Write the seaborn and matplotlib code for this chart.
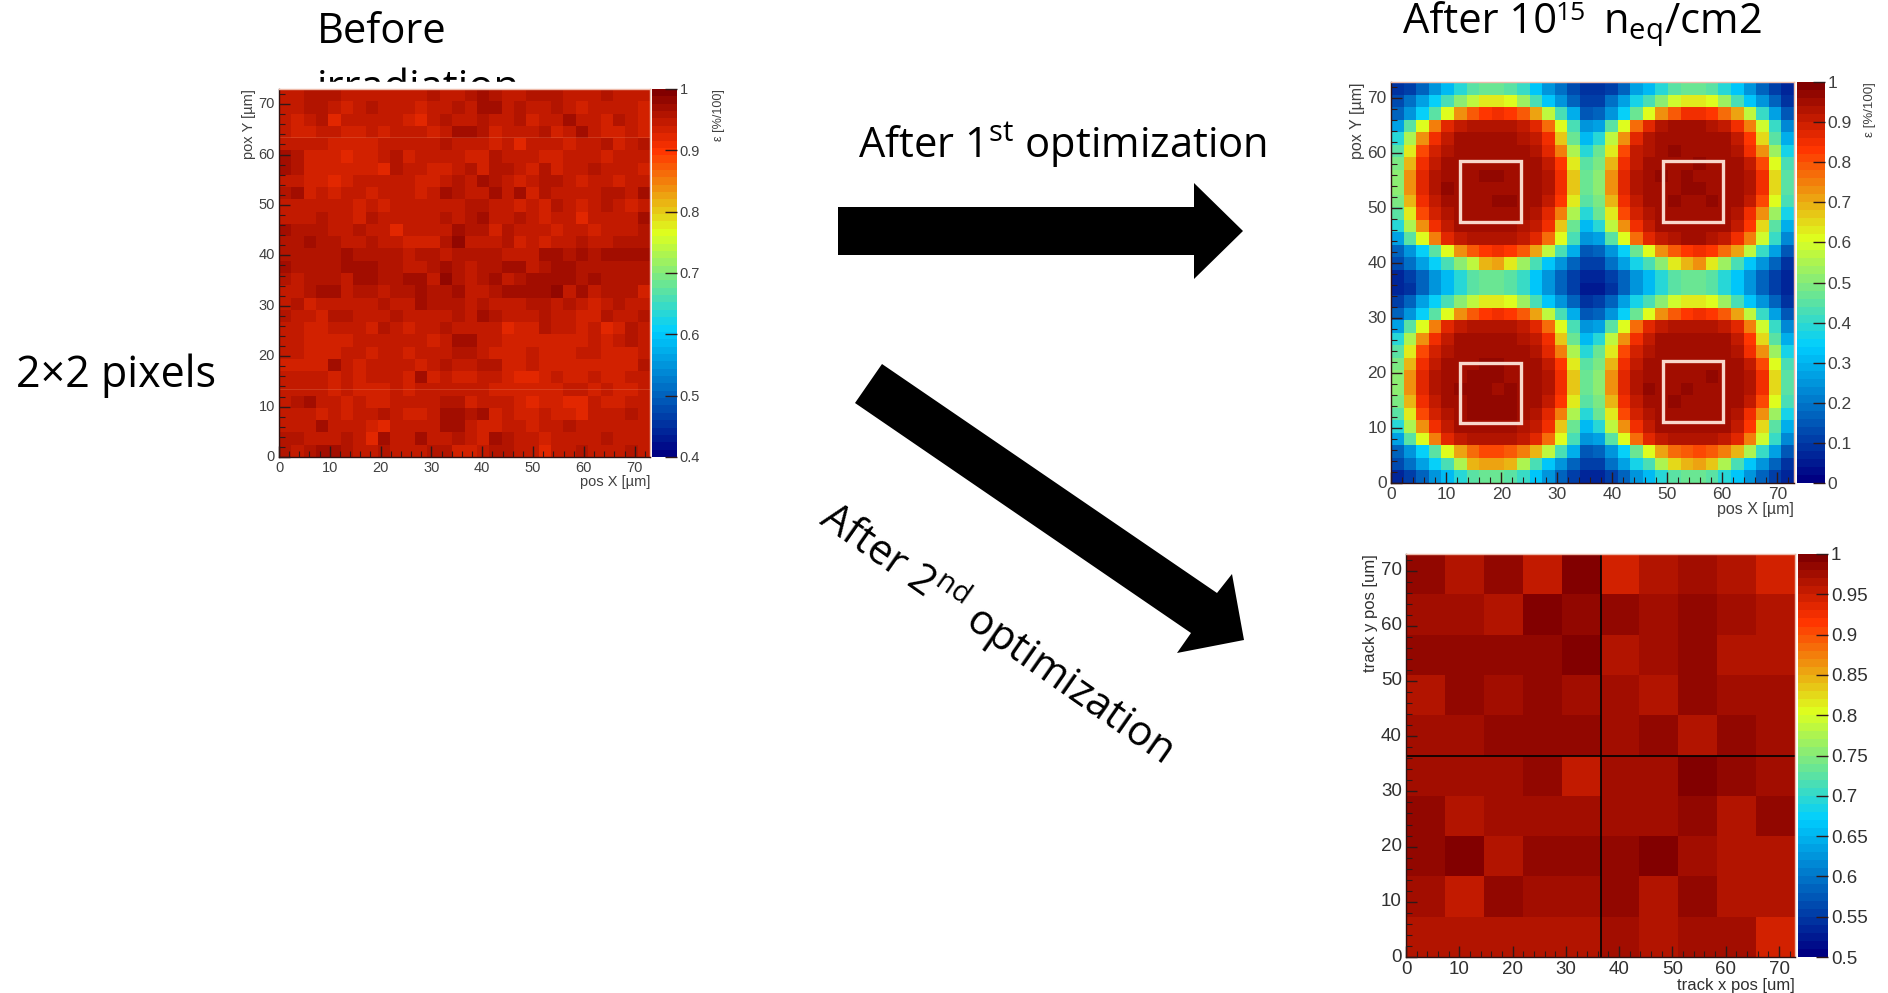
import numpy as np
import matplotlib
matplotlib.use('Agg')
import matplotlib.pyplot as plt
from matplotlib.colors import LinearSegmentedColormap
from matplotlib.patches import Polygon, Rectangle
import seaborn as sns

# --- DATA (rows go top to bottom) ---
# before irradiation, efficiency in percent
before_eff = [
    [95,95,96,96,96,95,95,95,95,95,95,95,96,95,95,96,97,96,95,95,96,96,96,95,95,95,96,95,95,95],
    [95,95,96,96,95,94,95,96,95,95,95,94,95,95,96,95,97,97,95,96,95,95,96,95,94,95,95,95,95,94],
    [95,94,95,96,92,95,95,95,95,95,93,92,95,96,95,95,96,95,95,96,94,95,95,97,95,95,94,96,95,94],
    [95,94,93,95,95,94,94,95,94,95,95,95,94,95,97,97,96,94,95,95,95,96,94,95,97,95,93,93,95,94],
    [95,95,95,95,94,94,94,94,95,95,95,95,95,96,95,95,95,94,95,92,95,95,95,94,95,95,96,94,95,96],
    [97,96,93,93,94,92,94,94,95,96,94,95,95,95,95,94,94,96,95,95,95,94,94,95,95,95,94,95,95,95],
    [97,96,93,93,93,94,93,93,92,96,95,95,94,94,95,96,94,96,96,95,94,96,93,95,95,96,95,95,95,94],
    [95,95,93,94,92,94,95,95,95,95,95,94,93,95,96,95,97,96,95,94,95,96,96,95,94,95,95,93,95,95],
    [96,97,94,95,93,95,95,94,95,95,95,94,95,97,96,95,95,97,95,97,93,96,95,95,95,95,96,96,95,97],
    [95,95,95,95,95,95,94,95,94,95,95,95,95,95,95,96,96,95,95,94,95,93,96,95,94,95,96,95,94,95],
    [95,95,95,96,95,95,94,96,95,95,95,95,95,96,95,96,97,95,95,96,95,94,95,95,92,95,95,95,95,97],
    [97,96,96,96,95,95,96,95,95,92,95,95,95,95,97,96,96,94,96,95,95,95,94,95,95,93,95,95,95,96],
    [96,96,97,96,96,95,95,96,95,95,94,94,94,96,98,95,95,95,96,94,95,94,95,95,96,95,95,96,96,96],
    [96,96,96,96,96,97,96,96,96,96,95,96,96,95,96,96,96,96,95,95,95,97,97,96,97,96,97,97,97,97],
    [97,96,96,96,96,97,97,97,96,96,95,95,96,97,96,95,96,96,97,97,95,96,97,97,96,96,96,96,96,96],
    [96,95,96,96,96,95,97,97,96,96,97,97,95,98,96,95,96,97,95,96,97,97,97,97,96,97,96,96,96,96],
    [95,95,96,97,97,95,96,96,95,96,96,97,96,96,97,95,95,96,97,97,97,97,98,95,97,95,96,96,96,94],
    [95,96,94,95,95,95,95,95,96,95,95,97,96,96,96,95,96,95,95,95,96,96,95,96,95,94,95,96,95,95],
    [96,95,95,94,96,96,95,95,95,96,95,95,95,95,96,95,97,96,95,95,95,96,95,95,94,94,96,95,95,96],
    [95,95,94,94,95,95,95,94,96,95,94,95,95,96,95,95,95,95,92,94,94,96,95,95,94,95,92,94,96,95],
    [95,95,93,94,94,94,95,95,95,95,95,95,94,95,97,97,95,95,94,94,94,94,94,94,94,95,94,95,96,95],
    [95,95,93,94,93,95,95,94,95,95,94,95,95,95,96,96,95,94,94,94,95,94,93,93,95,95,93,93,94,95],
    [94,93,94,93,97,95,94,95,95,95,95,94,95,96,95,95,96,96,94,94,95,94,93,94,93,94,93,93,94,96],
    [95,95,95,95,94,95,93,95,95,95,94,97,94,95,94,94,95,95,94,92,92,93,95,93,94,95,94,93,95,95],
    [95,95,95,95,94,95,94,94,93,95,93,95,95,95,95,95,95,94,94,93,93,94,93,95,95,94,95,94,94,95],
    [95,96,97,95,95,94,95,94,94,95,95,95,95,96,96,94,95,95,95,94,92,93,94,92,92,95,94,94,95,95],
    [95,95,95,94,95,94,95,95,96,95,94,94,95,97,97,96,97,94,95,94,94,95,94,94,92,95,95,95,96,95],
    [95,95,95,97,95,95,95,94,92,95,95,95,95,97,97,95,94,94,95,95,94,95,95,96,95,95,95,95,95,95],
    [96,96,95,95,95,96,95,92,97,95,95,97,95,95,96,95,94,97,96,95,95,94,95,95,95,95,96,95,95,95],
    [96,95,96,97,97,96,95,95,96,95,95,95,96,96,94,94,95,96,96,95,95,92,95,95,96,95,95,95,96,95],
]

# after 10^15 neq/cm2, efficiency in percent
irrad_eff = [
    [8,10,16,25,30,38,44,46,46,44,40,32,25,18,12,8,8,11,17,26,31,39,45,47,46,44,39,32,24,17,11,7],
    [12,18,27,35,42,50,58,62,62,60,52,42,32,25,17,10,11,18,27,36,43,51,59,63,63,60,52,42,32,24,16,9],
    [16,24,34,45,60,72,78,83,85,83,78,70,58,42,28,15,16,25,35,46,61,73,79,84,84,82,77,70,57,41,27,14],
    [26,44,60,75,86,91,93,93,93,93,91,86,76,60,42,24,27,45,61,76,87,92,94,94,94,93,90,85,75,59,41,23],
    [38,55,72,85,91,94,94,95,95,94,93,90,84,66,46,30,39,56,73,86,92,95,95,95,95,94,94,90,83,65,45,29],
    [45,62,80,89,93,95,95,94,94,95,94,93,86,74,54,38,46,63,81,90,93,95,96,95,95,95,94,93,85,73,53,37],
    [48,68,84,91,95,94,95,95,95,94,94,95,90,82,62,44,49,69,85,91,94,95,95,95,96,95,95,94,90,81,61,43],
    [50,72,86,92,95,95,95,96,96,95,95,94,92,84,66,46,51,73,87,92,95,96,95,96,95,95,94,95,92,84,65,45],
    [50,72,86,92,96,94,95,95,95,95,95,95,92,84,66,46,51,73,87,93,94,95,95,96,96,95,95,94,92,84,65,45],
    [48,68,84,91,94,95,95,95,96,96,95,94,90,82,62,44,49,69,85,91,95,95,96,95,95,96,95,94,90,81,61,43],
    [45,62,80,89,93,94,95,95,95,95,95,93,86,74,54,38,46,63,81,89,93,95,95,95,95,94,94,93,85,73,53,37],
    [38,55,72,85,91,94,94,95,95,94,93,90,84,66,46,30,39,56,73,85,91,94,94,94,95,94,94,90,83,65,45,29],
    [26,44,60,75,86,91,93,93,93,93,91,86,76,60,42,24,27,45,61,76,86,91,93,94,94,93,90,85,75,59,41,23],
    [16,24,34,45,60,72,78,83,85,83,78,70,58,42,28,15,16,25,35,46,60,72,79,82,84,82,77,70,57,41,27,14],
    [12,18,27,35,42,50,58,68,70,62,52,42,32,25,17,10,11,18,27,36,43,51,62,68,72,63,52,42,32,24,16,9],
    [7,10,16,24,30,38,44,46,46,44,40,32,24,17,11,6,6,10,17,25,31,39,45,47,46,44,39,32,24,17,11,6],
    [6,9,16,24,30,38,44,46,46,44,40,32,24,17,11,5,5,9,16,25,31,39,44,46,46,44,39,32,24,16,10,6],
    [10,17,27,35,42,50,58,62,62,60,52,42,32,25,16,9,10,17,27,36,43,51,59,62,62,60,52,42,32,24,16,9],
    [16,24,34,45,60,72,78,83,84,83,78,70,58,42,28,15,16,25,35,46,60,72,78,83,85,82,78,70,57,41,27,14],
    [26,44,60,75,86,91,93,93,93,93,91,86,76,60,42,24,27,45,61,76,86,91,93,93,93,93,91,86,75,59,41,23],
    [38,55,72,85,91,94,94,95,95,94,93,90,84,66,46,30,39,56,73,85,91,94,95,94,94,94,94,90,83,65,45,29],
    [45,62,80,89,93,95,95,95,95,95,94,93,86,74,54,38,46,63,81,89,93,95,95,95,95,95,94,93,85,73,53,37],
    [48,68,84,91,94,95,95,96,96,95,95,94,90,82,62,44,49,69,85,91,95,95,95,95,95,95,95,94,90,81,61,43],
    [50,72,86,92,95,95,96,96,96,95,95,95,92,84,66,46,51,73,87,92,94,95,95,95,95,96,95,94,92,84,65,45],
    [50,72,86,92,95,96,96,96,95,96,95,95,92,84,66,46,51,73,87,92,96,95,95,96,95,95,95,94,92,84,65,45],
    [48,68,84,91,95,95,96,96,96,96,95,94,90,82,62,44,49,69,85,91,94,95,96,95,95,95,95,94,90,81,61,43],
    [45,62,80,89,93,95,96,96,96,96,95,93,86,74,54,38,46,63,81,89,93,95,95,95,95,95,94,93,85,73,53,37],
    [38,55,72,85,91,94,94,95,95,94,93,90,84,66,46,30,39,56,73,85,91,94,94,95,95,94,94,90,83,65,45,29],
    [26,44,60,75,86,91,93,93,93,93,91,86,76,60,42,24,27,45,61,76,86,91,93,93,93,93,91,86,75,59,41,23],
    [16,24,34,45,60,70,76,81,81,79,75,68,56,42,28,15,16,25,35,46,60,70,76,79,80,79,75,68,55,41,27,14],
    [12,18,27,35,42,55,68,70,70,68,55,42,32,25,17,10,11,18,27,36,43,55,64,68,70,66,55,42,32,24,16,9],
    [7,10,16,24,30,38,44,46,46,44,40,32,24,17,11,6,6,10,17,25,31,39,45,47,46,44,39,32,24,17,11,6],
]

# after 2nd optimization, efficiency as fraction
opt2_eff = [
    [.98,.965,.985,.955,.993,.945,.96,.975,.965,.95],
    [.97,.972,.965,.993,.98,.985,.975,.982,.978,.96],
    [.985,.985,.985,.988,.99,.965,.978,.985,.965,.965],
    [.965,.983,.975,.98,.972,.975,.968,.985,.975,.97],
    [.975,.975,.985,.98,.98,.975,.98,.96,.98,.97],
    [.978,.978,.975,.98,.955,.975,.975,.992,.98,.972],
    [.983,.968,.978,.97,.978,.97,.973,.985,.968,.98],
    [.98,.99,.965,.983,.985,.98,.993,.97,.965,.965],
    [.975,.955,.988,.975,.973,.985,.968,.982,.968,.968],
    [.962,.967,.965,.967,.963,.978,.968,.972,.972,.95],
]

pos_ticks = [0, 10, 20, 30, 40, 50, 60, 70]
minor_ticks = list(range(2, 73, 2))
pos_max = 73

before_cticks = [0.4, 0.5, 0.6, 0.7, 0.8, 0.9, 1]
before_clabels = ['0.4', '0.5', '0.6', '0.7', '0.8', '0.9', '1']
irrad_cticks = [0, 0.1, 0.2, 0.3, 0.4, 0.5, 0.6, 0.7, 0.8, 0.9, 1]
irrad_clabels = ['0', '0.1', '0.2', '0.3', '0.4', '0.5', '0.6', '0.7', '0.8', '0.9', '1']
opt2_cticks = [0.5, 0.55, 0.6, 0.65, 0.7, 0.75, 0.8, 0.85, 0.9, 0.95, 1]
opt2_clabels = ['0.5', '0.55', '0.6', '0.65', '0.7', '0.75', '0.8', '0.85', '0.9', '0.95', '1']

# implant boxes in um: x low, x high, y low, y high
box_x_lo = [12.5, 49.2, 12.5, 49.2]
box_x_hi = [23.5, 60.2, 23.5, 60.2]
box_y_lo = [47.5, 47.5, 10.9, 11.1]
box_y_hi = [58.6, 58.6, 21.9, 22.2]

# faint seams in the first panel, um
seam_y = [13.5, 63.5]

# --- STYLE ---
W, H = 1888, 993
sns.set_theme(style='white')
plt.rcParams['font.family'] = ['Liberation Sans', 'DejaVu Sans']
plt.rcParams.update({
    'axes.axisbelow': False,
    'mathtext.fontset': 'custom',
    'mathtext.rm': 'Open Sans',
    'mathtext.it': 'Open Sans:italic',
    'mathtext.bf': 'Open Sans:bold',
})

# ROOT rainbow palette
root_stops = [0.0, 0.34, 0.61, 0.84, 1.0]
root_colors = [(0, 0, 0.51), (0, 0.81, 1), (0.87, 1, 0.12), (1, 0.2, 0), (0.51, 0, 0)]
root_cmap = LinearSegmentedColormap.from_list('root', list(zip(root_stops, root_colors)), N=50)

fig = plt.figure(figsize=(W / 100, H / 100), dpi=100, facecolor='white')


def px_axes(left, top, right, bottom, **kw):
    return fig.add_axes([left / W, 1 - bottom / H, (right - left) / W, (bottom - top) / H], **kw)


# slide layer, pixel coordinates
slide = px_axes(0, 0, W, H, zorder=0)
slide.set_xlim(0, W)
slide.set_ylim(H, 0)
slide.axis('off')


def slide_text(x, y, s, **kw):
    slide.text(x, y, s, family='Open Sans', fontsize=kw.pop('fontsize', 30), color='black', **kw)


slide_text(317, 43, 'Before', va='baseline')
slide_text(317, 100, 'irradiation', va='baseline')
slide.add_patch(Rectangle((200, 82), 560, 60, color='white', zorder=3))
slide_text(16, 387, '2×2 pixels', va='baseline', fontsize=31)
slide_text(858, 158, r'After 1$^{\mathrm{st}}$ optimization', va='baseline')
slide_text(1403, 33, 'After 10', va='baseline')
slide_text(1556, 20, '15', va='baseline', fontsize=19)
slide_text(1603, 33, r'n$_{\mathrm{eq}}$/cm2', va='baseline')
slide_text(997, 632, r'After 2$^{\mathrm{nd}}$ optimization', va='center', ha='center',
           rotation=-35, rotation_mode='anchor')

slide.add_patch(Polygon([(838, 207), (1194, 207), (1194, 183), (1243, 231), (1194, 279),
                         (1194, 255), (838, 255)], closed=True, color='black', lw=0))
slide.add_patch(Polygon([(882, 364), (1217, 593), (1232, 574), (1244, 640), (1177, 653),
                         (1191, 633), (855, 403)], closed=True, color='black', lw=0))


def draw_panel(data, ax_px, cax_px, vmin, vmax, cticks, clabels, xlabel, ylabel, fs, label_fs, tcol):
    ax = px_axes(*ax_px, zorder=2)
    cax = px_axes(*cax_px, zorder=2)
    arr = np.array(data, dtype=float)
    ny, nx = arr.shape
    sns.heatmap(arr, ax=ax, cbar_ax=cax, cmap=root_cmap, vmin=vmin, vmax=vmax,
                square=False, linewidths=0, rasterized=True)
    ax.set_axisbelow(False)
    cax.set_axisbelow(False)

    ax.set_xticks([t / pos_max * nx for t in pos_ticks])
    ax.set_xticklabels([str(t) for t in pos_ticks], rotation=0, fontsize=fs, color=tcol)
    ax.set_yticks([ny - t / pos_max * ny for t in pos_ticks])
    ax.set_yticklabels([str(t) for t in pos_ticks], rotation=0, fontsize=fs, color=tcol)
    ax.set_xticks([t / pos_max * nx for t in minor_ticks], minor=True)
    ax.set_yticks([ny - t / pos_max * ny for t in minor_ticks], minor=True)
    ax.tick_params(which='major', direction='in', length=8, width=1, color='#301818',
                   bottom=True, left=True, pad=3)
    ax.tick_params(which='minor', direction='in', length=4, width=0.8, color='#301818',
                   bottom=True, left=True)
    ax.set_xlabel(xlabel, loc='right', fontsize=label_fs, color=tcol, labelpad=0)
    ax.set_ylabel(ylabel, loc='top', fontsize=label_fs, color=tcol, labelpad=2)
    for name, sp in ax.spines.items():
        sp.set_visible(True)
        sp.set_linewidth(1)
        sp.set_color('#301010' if name in ('left', 'bottom') else '#eebbaa')

    cax.set_yticks(cticks)
    cax.set_yticklabels(clabels, fontsize=fs, color=tcol)
    cax.tick_params(axis='y', direction='in', length=9, width=1, color='#301818',
                    right=True, left=False, labelright=True, labelleft=False, pad=2)
    return ax, cax, nx, ny


# before irradiation
ax1, cax1, nx1, ny1 = draw_panel(np.array(before_eff) / 100, (279, 89, 650, 457), (652, 89, 677, 457), 0.4, 1,
                                 before_cticks, before_clabels, 'pos X [µm]', 'pox Y [µm]', 10.5, 10.5, '#404040')
for s in seam_y:
    ax1.axhline(ny1 - s / pos_max * ny1, color='#f09070', lw=0.6, alpha=0.3)
slide.text(719, 89, 'ε [%/100]', rotation=90, va='top', ha='center', fontsize=9, color='#404040', zorder=4)

# after irradiation
ax2, cax2, nx2, ny2 = draw_panel(np.array(irrad_eff) / 100, (1391, 82, 1794, 483), (1797, 82, 1825, 483), 0, 1,
                                 irrad_cticks, irrad_clabels, 'pos X [µm]', 'pox Y [µm]', 12.5, 11.5, '#404040')
slide.text(1870, 82, 'ε [%/100]', rotation=90, va='top', ha='center', fontsize=9.5, color='#404040', zorder=4)
for xl, xh, yl, yh in zip(box_x_lo, box_x_hi, box_y_lo, box_y_hi):
    x0 = xl / pos_max * nx2
    x1 = xh / pos_max * nx2
    y0 = ny2 - yh / pos_max * ny2
    y1 = ny2 - yl / pos_max * ny2
    ax2.add_patch(Rectangle((x0, y0), x1 - x0, y1 - y0, fill=False, edgecolor='#f8d8cc', lw=2.4))

# after 2nd optimization
ax3, cax3, nx3, ny3 = draw_panel(opt2_eff, (1406, 554, 1795, 957), (1798, 554, 1828, 957), 0.5, 1,
                                 opt2_cticks, opt2_clabels, 'track x pos [um]', 'track y pos [um]', 13.5, 12, '#303030')
ax3.axvline(36.5 / pos_max * nx3, color='black', lw=1.2)
ax3.axhline(ny3 - 36.5 / pos_max * ny3, color='black', lw=1.2)

plt.savefig('out.png', dpi=100, facecolor='white')
